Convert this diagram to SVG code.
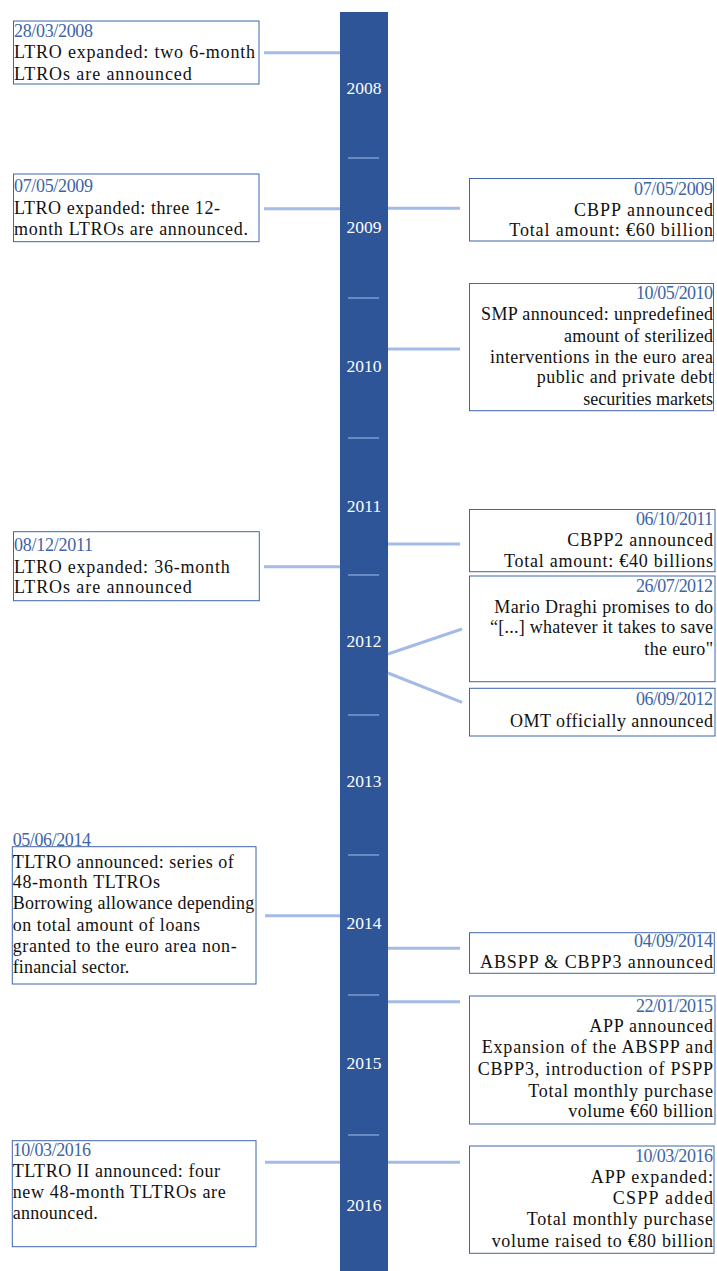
<svg xmlns="http://www.w3.org/2000/svg" width="717" height="1271" viewBox="0 0 717 1271" font-family="'Liberation Serif', 'DejaVu Serif', serif" font-size="18">
<style>
text{font-family:'Liberation Serif','DejaVu Serif',serif;font-size:18px}
.b{fill:#111111}
.d{fill:#3e64a6}
.r{text-anchor:end}
.yr{fill:#ffffff;text-anchor:middle;font-size:17.5px}
.box{fill:#ffffff;stroke:#3f66aa;stroke-width:1}
.con{stroke:#a3bbe5;stroke-width:3;fill:none}
.tick{stroke:#7d9bd2;stroke-width:1.5}
</style>
<rect width="717" height="1271" fill="#ffffff"/>
<g id="timeline">
<rect x="340" y="12" width="48" height="1259" fill="#2e5597"/>
<g class="tick">
<line x1="348" y1="158" x2="379" y2="158"/>
<line x1="348" y1="298" x2="379" y2="298"/>
<line x1="348" y1="438" x2="379" y2="438"/>
<line x1="348" y1="575" x2="379" y2="575"/>
<line x1="348" y1="715" x2="379" y2="715"/>
<line x1="348" y1="855" x2="379" y2="855"/>
<line x1="348" y1="995" x2="379" y2="995"/>
<line x1="348" y1="1135" x2="379" y2="1135"/>
</g>
<text class="yr" x="364" y="94">2008</text>
<text class="yr" x="364" y="233">2009</text>
<text class="yr" x="364" y="372">2010</text>
<text class="yr" x="364" y="512">2011</text>
<text class="yr" x="364" y="647">2012</text>
<text class="yr" x="364" y="787">2013</text>
<text class="yr" x="364" y="929">2014</text>
<text class="yr" x="364" y="1069">2015</text>
<text class="yr" x="364" y="1211">2016</text>
</g>
<g id="connectors">
<line class="con" x1="264" y1="52.7" x2="340" y2="52.7"/>
<line class="con" x1="264" y1="208.7" x2="340" y2="208.7"/>
<line class="con" x1="388" y1="208.3" x2="460" y2="208.3"/>
<line class="con" x1="388" y1="349" x2="460" y2="349"/>
<line class="con" x1="388" y1="544" x2="460" y2="544"/>
<line class="con" x1="264" y1="566.7" x2="340" y2="566.7"/>
<line class="con" x1="388" y1="654" x2="462" y2="629"/>
<line class="con" x1="388" y1="673" x2="462" y2="702.3"/>
<line class="con" x1="265" y1="915.7" x2="340" y2="915.7"/>
<line class="con" x1="388" y1="948.3" x2="460" y2="948.3"/>
<line class="con" x1="388" y1="1001.7" x2="460" y2="1001.7"/>
<line class="con" x1="265" y1="1162.3" x2="340" y2="1162.3"/>
<line class="con" x1="388" y1="1162.3" x2="460" y2="1162.3"/>
</g>
<g id="e2008-ltro">
<rect class="box" x="13.5" y="21" width="245.5" height="63"/>
<text class="d" x="14" y="36.7" textLength="79" lengthAdjust="spacing">28/03/2008</text>
<text class="b" x="14" y="58.3" textLength="241" lengthAdjust="spacing">LTRO expanded: two 6-month</text>
<text class="b" x="14" y="80" textLength="177.7" lengthAdjust="spacing">LTROs are announced</text>
</g>
<g id="e2009-ltro">
<rect class="box" x="13.5" y="174" width="245.5" height="67.7"/>
<text class="d" x="14" y="191.7" textLength="79" lengthAdjust="spacing">07/05/2009</text>
<text class="b" x="14" y="214" textLength="206" lengthAdjust="spacing">LTRO expanded: three 12-</text>
<text class="b" x="14" y="235" textLength="234" lengthAdjust="spacing">month LTROs are announced.</text>
</g>
<g id="e2009-cbpp">
<rect class="box" x="469.5" y="178.5" width="244" height="62.5"/>
<text class="d r" x="713" y="195" textLength="79" lengthAdjust="spacing">07/05/2009</text>
<text class="b r" x="713" y="215.5" textLength="139" lengthAdjust="spacing">CBPP announced</text>
<text class="b r" x="713" y="235.5" textLength="203.7" lengthAdjust="spacing">Total amount: €60 billion</text>
</g>
<g id="e2010-smp">
<rect class="box" x="469.5" y="283.5" width="244" height="127.2"/>
<text class="d r" x="713" y="299.3" textLength="77" lengthAdjust="spacing">10/05/2010</text>
<text class="b r" x="713" y="320" textLength="232" lengthAdjust="spacing">SMP announced: unpredefined</text>
<text class="b r" x="713" y="341.7" textLength="149" lengthAdjust="spacing">amount of sterilized</text>
<text class="b r" x="713" y="362.7" textLength="223" lengthAdjust="spacing">interventions in the euro area</text>
<text class="b r" x="713" y="383.3" textLength="176.3" lengthAdjust="spacing">public and private debt</text>
<text class="b r" x="713" y="405" textLength="129.7" lengthAdjust="spacing">securities markets</text>
</g>
<g id="e2011-cbpp2">
<rect class="box" x="469.5" y="509.5" width="245.5" height="62.2"/>
<text class="d r" x="713" y="525" textLength="77" lengthAdjust="spacing">06/10/2011</text>
<text class="b r" x="713" y="545.7" textLength="145.7" lengthAdjust="spacing">CBPP2 announced</text>
<text class="b r" x="713" y="566.7" textLength="209" lengthAdjust="spacing">Total amount: €40 billions</text>
</g>
<g id="e2011-ltro">
<rect class="box" x="13.5" y="531.7" width="245.8" height="69"/>
<text class="d" x="14" y="550.7" textLength="79" lengthAdjust="spacing">08/12/2011</text>
<text class="b" x="14" y="572.7" textLength="215.7" lengthAdjust="spacing">LTRO expanded: 36-month</text>
<text class="b" x="14" y="592.7" textLength="177.7" lengthAdjust="spacing">LTROs are announced</text>
</g>
<g id="e2012-draghi">
<rect class="box" x="469.5" y="576" width="245.5" height="105.7"/>
<text class="d r" x="713" y="591.7" textLength="77" lengthAdjust="spacing">26/07/2012</text>
<text class="b r" x="713" y="612.7" textLength="218.7" lengthAdjust="spacing">Mario Draghi promises to do</text>
<text class="b r" x="713" y="633.3" textLength="223" lengthAdjust="spacing">“[...] whatever it takes to save</text>
<text class="b r" x="713" y="655" textLength="68.7" lengthAdjust="spacing">the euro"</text>
</g>
<g id="e2012-omt">
<rect class="box" x="469.5" y="688.3" width="245.5" height="47.7"/>
<text class="d r" x="713" y="705" textLength="77" lengthAdjust="spacing">06/09/2012</text>
<text class="b r" x="713" y="726.7" textLength="203" lengthAdjust="spacing">OMT officially announced</text>
</g>
<g id="e2014-tltro">
<rect class="box" x="12.3" y="846.7" width="243.7" height="137.3"/>
<text class="d" x="12.7" y="846" textLength="78.3" lengthAdjust="spacing">05/06/2014</text>
<text class="b" x="12.7" y="867.7" textLength="221" lengthAdjust="spacing">TLTRO announced: series of</text>
<text class="b" x="12.7" y="888.3" textLength="147.3" lengthAdjust="spacing">48-month TLTROs</text>
<text class="b" x="12.7" y="909.3" textLength="241.6" lengthAdjust="spacing">Borrowing allowance depending</text>
<text class="b" x="12.7" y="931" textLength="187.3" lengthAdjust="spacing">on total amount of loans</text>
<text class="b" x="12.7" y="951.7" textLength="224" lengthAdjust="spacing">granted to the euro area non-</text>
<text class="b" x="12.7" y="973.3" textLength="116.6" lengthAdjust="spacing">financial sector.</text>
</g>
<g id="e2014-abspp">
<rect class="box" x="469.5" y="932.7" width="244.8" height="40.6"/>
<text class="d r" x="713" y="947.3" textLength="79" lengthAdjust="spacing">04/09/2014</text>
<text class="b r" x="713" y="968.3" textLength="233" lengthAdjust="spacing">ABSPP &amp; CBPP3 announced</text>
</g>
<g id="e2015-app">
<rect class="box" x="469.5" y="996" width="245.5" height="128"/>
<text class="d r" x="713" y="1011.7" textLength="77" lengthAdjust="spacing">22/01/2015</text>
<text class="b r" x="713" y="1032.3" textLength="123.7" lengthAdjust="spacing">APP announced</text>
<text class="b r" x="713" y="1053.3" textLength="231.3" lengthAdjust="spacing">Expansion of the ABSPP and</text>
<text class="b r" x="713" y="1075" textLength="235.3" lengthAdjust="spacing">CBPP3, introduction of PSPP</text>
<text class="b r" x="713" y="1096.7" textLength="184.7" lengthAdjust="spacing">Total monthly purchase</text>
<text class="b r" x="713" y="1117.3" textLength="144.7" lengthAdjust="spacing">volume €60 billion</text>
</g>
<g id="e2016-tltro2">
<rect class="box" x="12.3" y="1140.7" width="243.7" height="106"/>
<text class="d" x="12.7" y="1156" textLength="78.3" lengthAdjust="spacing">10/03/2016</text>
<text class="b" x="12.7" y="1176.7" textLength="207.3" lengthAdjust="spacing">TLTRO II announced: four</text>
<text class="b" x="12.7" y="1198.3" textLength="213" lengthAdjust="spacing">new 48-month TLTROs are</text>
<text class="b" x="12.7" y="1219.3" textLength="85" lengthAdjust="spacing">announced.</text>
</g>
<g id="e2016-app">
<rect class="box" x="469.5" y="1146" width="244.5" height="107.3"/>
<text class="d r" x="713" y="1162.3" textLength="78" lengthAdjust="spacing">10/03/2016</text>
<text class="b r" x="713" y="1183.3" textLength="122.3" lengthAdjust="spacing">APP expanded:</text>
<text class="b r" x="713" y="1204" textLength="100.3" lengthAdjust="spacing">CSPP added</text>
<text class="b r" x="713" y="1225" textLength="186.3" lengthAdjust="spacing">Total monthly purchase</text>
<text class="b r" x="713" y="1246.7" textLength="221.3" lengthAdjust="spacing">volume raised to €80 billion</text>
</g>
</svg>
